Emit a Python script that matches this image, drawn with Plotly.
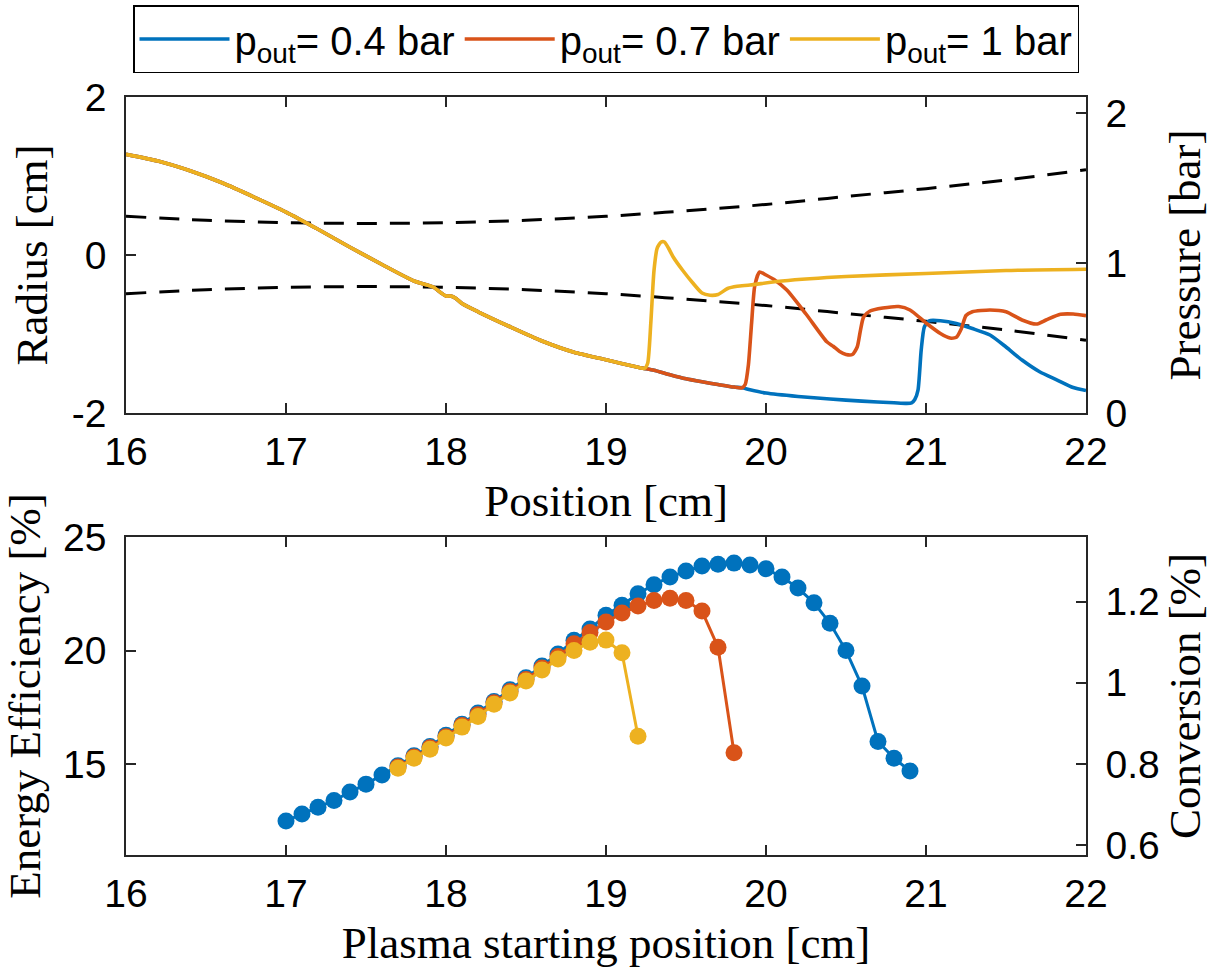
import plotly.graph_objects as go

BLUE = "#0072BD"
ORANGE = "#D95319"
YELLOW = "#EDB120"
AXIS = "#262626"

# ---------------- top panel: nozzle wall and static pressure ----------------
wall_pos = [16.0, 16.5, 17.0, 17.5, 18.0, 18.5, 19.0, 19.5, 20.0, 20.5, 21.0, 21.5, 22.0]
wall_radius = [0.49, 0.44, 0.41, 0.40, 0.41, 0.44, 0.49, 0.56, 0.64, 0.74, 0.84, 0.95, 1.08]

# upstream pressure profile shared by all outlet pressures
pos_up = [16.0, 16.2, 16.4, 16.6, 16.8, 17.0, 17.2, 17.4, 17.6, 17.8, 17.92, 17.97, 18.0,
          18.03, 18.06, 18.1, 18.2, 18.4, 18.6, 18.8, 19.0, 19.2, 19.24]
p_up = [1.725, 1.68, 1.615, 1.535, 1.44, 1.34, 1.225, 1.105, 0.99, 0.88, 0.84, 0.80, 0.78,
        0.78, 0.765, 0.73, 0.675, 0.575, 0.48, 0.405, 0.355, 0.305, 0.297]

# supersonic branch shared by 0.4 bar and 0.7 bar
pos_low = [19.3, 19.4, 19.5, 19.6, 19.7, 19.8, 19.85]
p_low = [0.285, 0.255, 0.228, 0.208, 0.19, 0.173, 0.168]

pos_tail_04 = [19.9, 20.0, 20.2, 20.4, 20.6, 20.8, 20.88, 20.91, 20.93, 20.95, 20.97, 20.99,
               21.02, 21.09, 21.19, 21.29, 21.4, 21.5, 21.6, 21.71, 21.82, 21.92, 22.0]
p_tail_04 = [0.155, 0.133, 0.11, 0.093, 0.079, 0.068, 0.064, 0.068, 0.09, 0.153, 0.42, 0.575,
             0.615, 0.615, 0.597, 0.563, 0.52, 0.44, 0.353, 0.275, 0.22, 0.17, 0.15]

pos_tail_07 = [19.87, 19.89, 19.91, 19.93, 19.96, 20.0, 20.05, 20.13, 20.25, 20.38, 20.42,
               20.46, 20.5, 20.54, 20.57, 20.59, 20.61, 20.65, 20.73, 20.83, 20.9, 21.0,
               21.09, 21.15, 21.19, 21.22, 21.25, 21.29, 21.4, 21.5, 21.6, 21.69, 21.75,
               21.84, 21.92, 22.0]
p_tail_07 = [0.19, 0.32, 0.6, 0.85, 0.94, 0.92, 0.89, 0.82, 0.66, 0.475, 0.445, 0.41, 0.39,
             0.39, 0.44, 0.55, 0.64, 0.68, 0.70, 0.71, 0.687, 0.60, 0.53, 0.50, 0.505, 0.56,
             0.65, 0.675, 0.687, 0.675, 0.62, 0.593, 0.62, 0.658, 0.66, 0.649]

pos_tail_1 = [19.26, 19.28, 19.30, 19.32, 19.345, 19.365, 19.39, 19.42, 19.48, 19.54, 19.6,
              19.65, 19.7, 19.76, 19.82, 19.9, 20.1, 20.5, 21.0, 21.5, 22.0]
p_tail_1 = [0.33, 0.6, 0.95, 1.10, 1.14, 1.14, 1.10, 1.04, 0.95, 0.87, 0.80, 0.785, 0.79,
            0.83, 0.845, 0.853, 0.88, 0.91, 0.93, 0.95, 0.958]

# ---------------- bottom panel: efficiency vs plasma start position ----------------
start_04 = [17.0, 17.1, 17.2, 17.3, 17.4, 17.5, 17.6, 17.7, 17.8, 17.9,
            18.0, 18.1, 18.2, 18.3, 18.4, 18.5, 18.6, 18.7, 18.8, 18.9,
            19.0, 19.1, 19.2, 19.3, 19.4, 19.5, 19.6, 19.7, 19.8, 19.9,
            20.0, 20.1, 20.2, 20.3, 20.4, 20.5, 20.6, 20.7, 20.8, 20.9]
eff_04 = [12.5, 12.8, 13.1, 13.4, 13.77, 14.12, 14.52, 14.93, 15.37, 15.78,
          16.27, 16.76, 17.25, 17.76, 18.27, 18.8, 19.32, 19.85, 20.45, 20.95,
          21.56, 22.0, 22.5, 22.9, 23.24, 23.5, 23.72, 23.8, 23.85, 23.77,
          23.6, 23.24, 22.75, 22.1, 21.2, 20.0, 18.44, 16.0, 15.26, 14.7]

start_07 = [17.7, 17.8, 17.9, 18.0, 18.1, 18.2, 18.3, 18.4, 18.5, 18.6, 18.7,
            18.8, 18.9, 19.0, 19.1, 19.2, 19.3, 19.4, 19.5, 19.6, 19.7, 19.8]
eff_07 = [14.87, 15.31, 15.72, 16.21, 16.7, 17.18, 17.7, 18.2, 18.73, 19.23, 19.74,
          20.3, 20.8, 21.26, 21.65, 21.96, 22.2, 22.3, 22.2, 21.74, 20.15, 15.5]

start_1 = [17.7, 17.8, 17.9, 18.0, 18.1, 18.2, 18.3, 18.4, 18.5, 18.6, 18.7,
           18.8, 18.9, 19.0, 19.1, 19.2]
eff_1 = [14.82, 15.26, 15.66, 16.15, 16.63, 17.1, 17.64, 18.13, 18.66, 19.14, 19.63,
         20.0, 20.37, 20.46, 19.9, 16.23]

labels = ["p<sub>out</sub>= 0.4 bar", "p<sub>out</sub>= 0.7 bar", "p<sub>out</sub>= 1 bar"]
colors = [BLUE, ORANGE, YELLOW]

pressure_x = [pos_up + pos_low + pos_tail_04,
              pos_up + pos_low + pos_tail_07,
              pos_up + pos_tail_1]
pressure_y = [p_up + p_low + p_tail_04,
              p_up + p_low + p_tail_07,
              p_up + p_tail_1]
eff_x = [start_04, start_07, start_1]
eff_y = [eff_04, eff_07, eff_1]

fig = go.Figure()

# nozzle walls (left axis)
for sign in (1, -1):
    fig.add_trace(go.Scatter(
        x=wall_pos, y=[sign * r for r in wall_radius], mode="lines",
        line=dict(color="black", width=3, dash="20px,13px", shape="spline"),
        xaxis="x", yaxis="y", showlegend=False, hoverinfo="skip"))

# pressure curves (right axis)
for name, c, xs, ys in zip(labels, colors, pressure_x, pressure_y):
    fig.add_trace(go.Scatter(
        x=xs, y=ys, mode="lines", name=name,
        line=dict(color=c, width=3.6, shape="spline", smoothing=0.6),
        xaxis="x", yaxis="y2", showlegend=True))

# energy efficiency (bottom panel)
for name, c, xs, ys in zip(labels, colors, eff_x, eff_y):
    fig.add_trace(go.Scatter(
        x=xs, y=ys, mode="lines+markers", name=name,
        line=dict(color=c, width=3),
        marker=dict(color=c, size=17),
        xaxis="x2", yaxis="y3", showlegend=False))

# empty series that registers the conversion axis on the right of the bottom panel
fig.add_trace(go.Scatter(x=[], y=[], mode="lines", xaxis="x2", yaxis="y4",
                         showlegend=False, hoverinfo="skip"))

TICK_FONT = dict(family="Liberation Sans, Arial, sans-serif", size=39, color="black")
TITLE_FONT = dict(family="Liberation Serif, Times New Roman, serif", size=45, color="black")

# plot area: x 126..1086, y 97..855 (pixels)
ML, MR, MT, MB = 126, 1214 - 1086, 97, 968 - 855
PH = 968 - MT - MB
TOP_DOM = [(855 - 413) / PH, 1.0]
BOT_DOM = [0.0, (855 - 537) / PH]

common_axis = dict(showline=True, linecolor=AXIS, linewidth=1.5, ticks="inside",
                   ticklen=10, tickwidth=1.5, tickcolor=AXIS, showgrid=False,
                   zeroline=False, tickfont=TICK_FONT, automargin=False)

fig.update_layout(
    width=1214, height=968,
    margin=dict(l=ML, r=MR, t=MT, b=MB, autoexpand=False),
    paper_bgcolor="white", plot_bgcolor="white",
    xaxis=dict(domain=[0, 1], anchor="y", range=[16, 22], tickvals=[16, 17, 18, 19, 20, 21, 22],
               mirror="ticks", ticklabelstandoff=3,
               title=dict(text="Position [cm]", font=TITLE_FONT, standoff=13),
               **common_axis),
    yaxis=dict(domain=TOP_DOM, anchor="x", range=[-2, 2], tickvals=[-2, 0, 2],
               ticktext=["-2", "0", "2"], ticklabelstandoff=10,
               title=dict(text="Radius [cm]", font=TITLE_FONT, standoff=10),
               **common_axis),
    yaxis2=dict(overlaying="y", side="right", anchor="x", range=[0, 2.107],
                tickvals=[0, 1, 2], ticklabelstandoff=10,
                title=dict(text="Pressure [bar]", font=TITLE_FONT, standoff=42),
                **common_axis),
    xaxis2=dict(domain=[0, 1], anchor="y3", range=[16, 22], tickvals=[16, 17, 18, 19, 20, 21, 22],
                mirror="ticks", ticklabelstandoff=3,
                title=dict(text="Plasma starting position [cm]", font=TITLE_FONT, standoff=15),
                **common_axis),
    yaxis3=dict(domain=BOT_DOM, anchor="x2", range=[11, 25], tickvals=[15, 20, 25],
                ticklabelstandoff=10,
                title=dict(text="Energy Efficiency [%]", font=TITLE_FONT, standoff=10),
                **common_axis),
    yaxis4=dict(overlaying="y3", side="right", anchor="x2", range=[0.575, 1.36],
                tickvals=[0.6, 0.8, 1.0, 1.2], ticktext=["0.6", "0.8", "1", "1.2"],
                ticklabelstandoff=10,
                title=dict(text="Conversion [%]", font=TITLE_FONT, standoff=8),
                **common_axis),
    legend=dict(orientation="h", x=0.5, xanchor="center", y=1 + (MT - 5) / PH, yanchor="top",
                bordercolor="black", borderwidth=1.5, bgcolor="white",
                font=dict(family="Liberation Sans, Arial, sans-serif", size=40, color="black"),
                itemwidth=90),
)

fig.write_html("out.html")
